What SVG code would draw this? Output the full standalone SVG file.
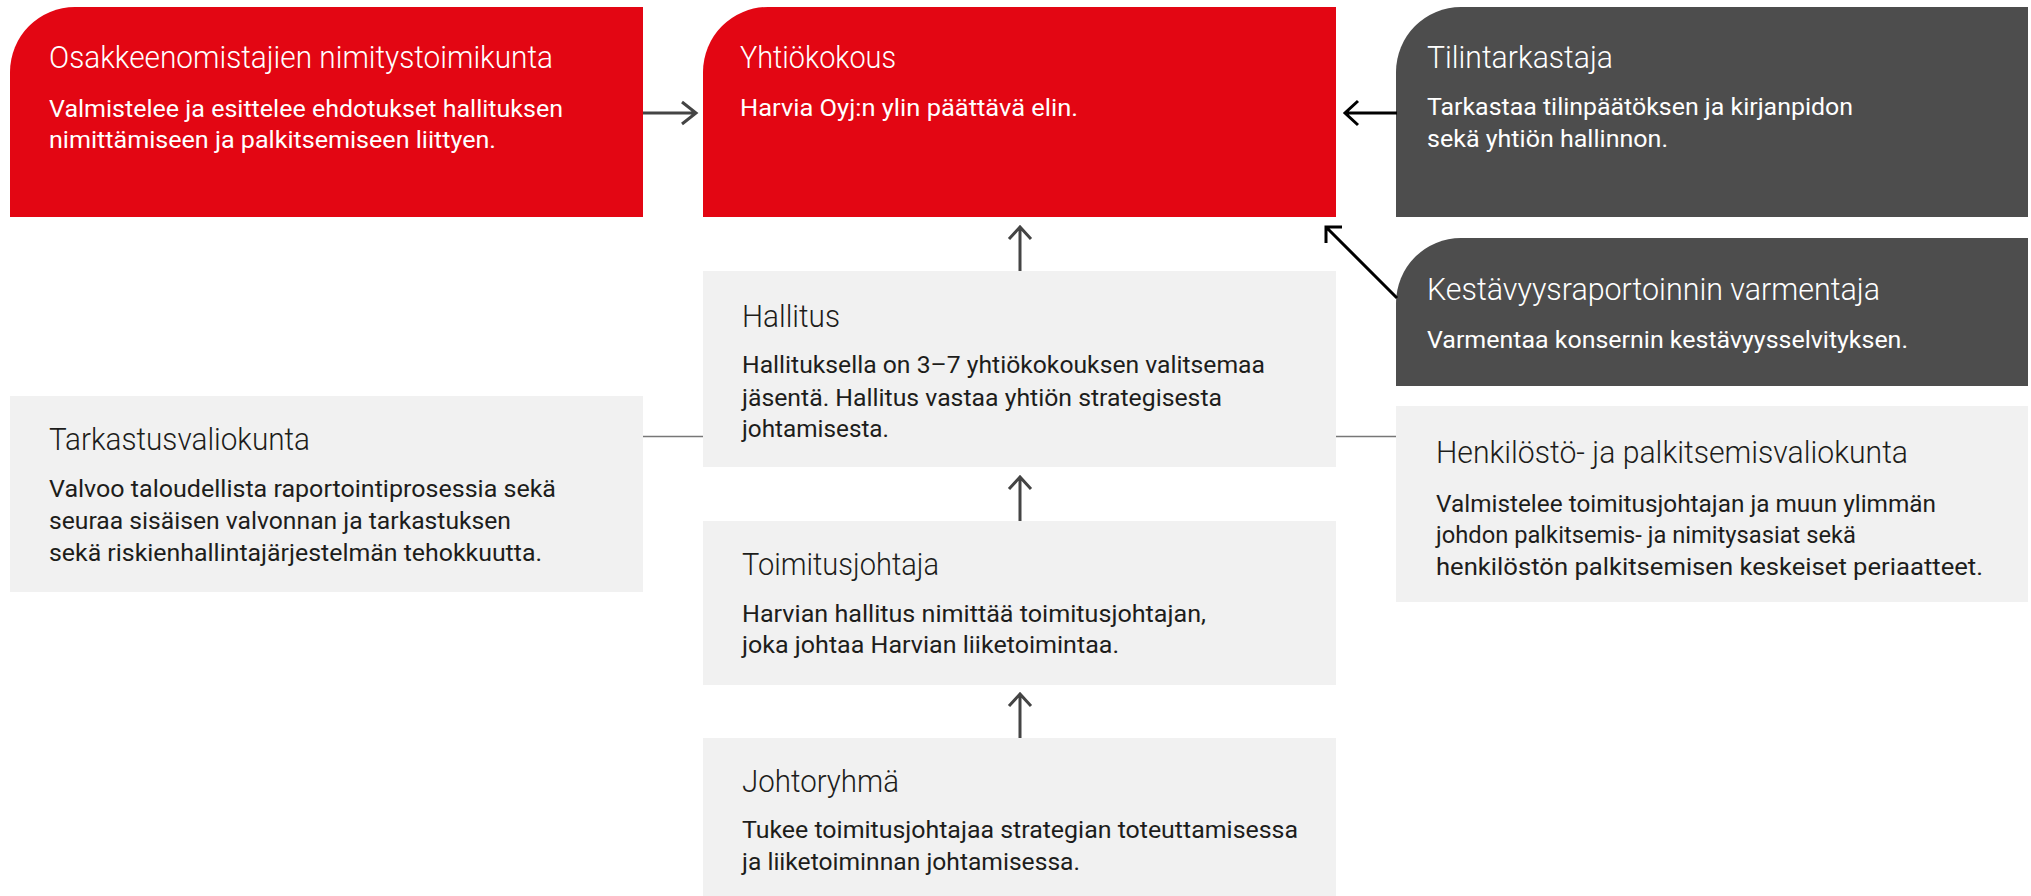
<svg xmlns="http://www.w3.org/2000/svg" width="2031" height="896" viewBox="0 0 2031 896">
<defs>
<style>
.red{fill:#E30613}
.dark{fill:#4D4D4D}
.light{fill:#F1F1F1}
.t{font-family:Roboto,"Liberation Sans",sans-serif;font-weight:300;font-size:32px}
.b{font-family:Roboto,"Liberation Sans",sans-serif;font-weight:400;font-size:23px}
.w{fill:#FFFFFF}
.k{fill:#1D1D1B}
.ln{fill:none;stroke-width:3}
.g{stroke:#444444}
.bl{stroke:#000000}
.thin{fill:none;stroke:#777777;stroke-width:1.5}
</style>
</defs>
<rect width="2031" height="896" fill="#FFFFFF"/>

<g id="osakkeenomistajien-nimitystoimikunta">
<path class="red" d="M10,217 V72 A65,65 0 0 1 75,7 H643 V217 Z"/>
<text class="t w" x="49" y="68" textLength="504" lengthAdjust="spacingAndGlyphs">Osakkeenomistajien nimitystoimikunta</text>
<text class="b w" x="49" y="117" textLength="514" lengthAdjust="spacingAndGlyphs">Valmistelee ja esittelee ehdotukset hallituksen</text>
<text class="b w" x="49" y="148" textLength="447" lengthAdjust="spacingAndGlyphs">nimittämiseen ja palkitsemiseen liittyen.</text>
</g>

<g id="yhtiokokous">
<path class="red" d="M703,217 V72 A65,65 0 0 1 768,7 H1336 V217 Z"/>
<text class="t w" x="740" y="68" textLength="156" lengthAdjust="spacingAndGlyphs">Yhtiökokous</text>
<text class="b w" x="740" y="116" textLength="338" lengthAdjust="spacingAndGlyphs">Harvia Oyj:n ylin päättävä elin.</text>
</g>

<g id="tilintarkastaja">
<path class="dark" d="M1396,217 V72 A65,65 0 0 1 1461,7 H2028 V217 Z"/>
<text class="t w" x="1427" y="68" textLength="186" lengthAdjust="spacingAndGlyphs">Tilintarkastaja</text>
<text class="b w" x="1427" y="115" textLength="426" lengthAdjust="spacingAndGlyphs">Tarkastaa tilinpäätöksen ja kirjanpidon</text>
<text class="b w" x="1427" y="147" textLength="241" lengthAdjust="spacingAndGlyphs">sekä yhtiön hallinnon.</text>
</g>

<g id="kestavyysraportoinnin-varmentaja">
<path class="dark" d="M1396,386 V303 A65,65 0 0 1 1461,238 H2028 V386 Z"/>
<text class="t w" x="1427" y="300" textLength="453" lengthAdjust="spacingAndGlyphs">Kestävyysraportoinnin varmentaja</text>
<text class="b w" x="1427" y="348" textLength="481" lengthAdjust="spacingAndGlyphs">Varmentaa konsernin kestävyysselvityksen.</text>
</g>

<g id="hallitus">
<rect class="light" x="703" y="271" width="633" height="196"/>
<text class="t k" x="742" y="327" textLength="98" lengthAdjust="spacingAndGlyphs">Hallitus</text>
<text class="b k" x="742" y="373" textLength="523" lengthAdjust="spacingAndGlyphs">Hallituksella on 3–7 yhtiökokouksen valitsemaa</text>
<text class="b k" x="742" y="406" textLength="480" lengthAdjust="spacingAndGlyphs">jäsentä. Hallitus vastaa yhtiön strategisesta</text>
<text class="b k" x="742" y="437" textLength="147" lengthAdjust="spacingAndGlyphs">johtamisesta.</text>
</g>

<g id="tarkastusvaliokunta">
<rect class="light" x="10" y="396" width="633" height="196"/>
<text class="t k" x="49" y="450" textLength="261" lengthAdjust="spacingAndGlyphs">Tarkastusvaliokunta</text>
<text class="b k" x="49" y="497" textLength="507" lengthAdjust="spacingAndGlyphs">Valvoo taloudellista raportointiprosessia sekä</text>
<text class="b k" x="49" y="529" textLength="462" lengthAdjust="spacingAndGlyphs">seuraa sisäisen valvonnan ja tarkastuksen</text>
<text class="b k" x="49" y="561" textLength="493" lengthAdjust="spacingAndGlyphs">sekä riskienhallintajärjestelmän tehokkuutta.</text>
</g>

<g id="henkilosto-ja-palkitsemisvaliokunta">
<rect class="light" x="1396" y="406" width="632" height="196"/>
<text class="t k" x="1436" y="463" textLength="472" lengthAdjust="spacingAndGlyphs">Henkilöstö- ja palkitsemisvaliokunta</text>
<text class="b k" x="1436" y="512" textLength="500" lengthAdjust="spacingAndGlyphs">Valmistelee toimitusjohtajan ja muun ylimmän</text>
<text class="b k" x="1436" y="543" textLength="420" lengthAdjust="spacingAndGlyphs">johdon palkitsemis- ja nimitysasiat sekä</text>
<text class="b k" x="1436" y="575" textLength="547" lengthAdjust="spacingAndGlyphs">henkilöstön palkitsemisen keskeiset periaatteet.</text>
</g>

<g id="toimitusjohtaja">
<rect class="light" x="703" y="521" width="633" height="164"/>
<text class="t k" x="742" y="575" textLength="197" lengthAdjust="spacingAndGlyphs">Toimitusjohtaja</text>
<text class="b k" x="742" y="622" textLength="464" lengthAdjust="spacingAndGlyphs">Harvian hallitus nimittää toimitusjohtajan,</text>
<text class="b k" x="742" y="653" textLength="377" lengthAdjust="spacingAndGlyphs">joka johtaa Harvian liiketoimintaa.</text>
</g>

<g id="johtoryhma">
<rect class="light" x="703" y="738" width="633" height="160"/>
<text class="t k" x="742" y="792" textLength="157" lengthAdjust="spacingAndGlyphs">Johtoryhmä</text>
<text class="b k" x="742" y="838" textLength="556" lengthAdjust="spacingAndGlyphs">Tukee toimitusjohtajaa strategian toteuttamisessa</text>
<text class="b k" x="742" y="870" textLength="338" lengthAdjust="spacingAndGlyphs">ja liiketoiminnan johtamisessa.</text>
</g>

<g id="connectors">
<path class="ln g" d="M643,113 H695 M682,102 L696,113 L682,124"/>
<path class="ln bl" d="M1397,113 H1346 M1358,101 L1345,113 L1358,125"/>
<path class="ln bl" d="M1397,298 L1327,228 M1342,227 H1326 V243"/>
<path class="ln g" d="M1020,271 V227 M1009,239 L1020,227 L1031,239"/>
<path class="ln g" d="M1020,521 V477 M1009,489 L1020,477 L1031,489"/>
<path class="ln g" d="M1020,738 V694 M1009,706 L1020,694 L1031,706"/>
<path class="thin" d="M643,436.5 H703"/>
<path class="thin" d="M1336,436.5 H1396"/>
</g>
</svg>
